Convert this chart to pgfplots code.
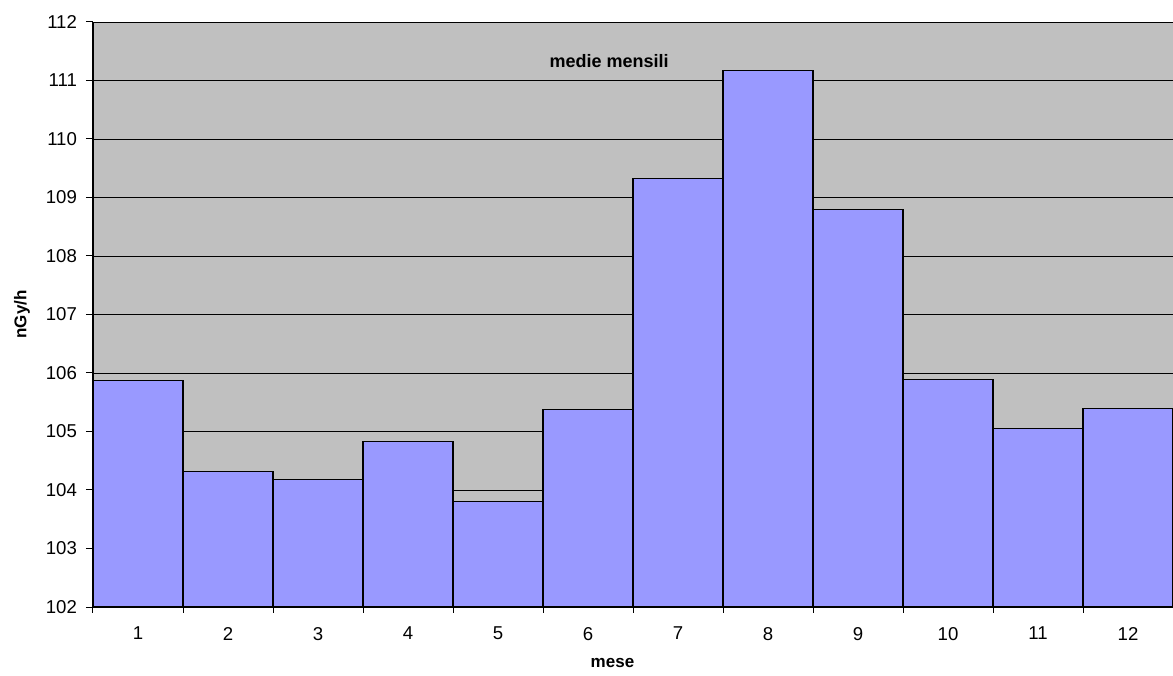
\documentclass[border=0pt]{standalone}
\usepackage{pgfplots}
\pgfplotsset{compat=1.18}
\usepackage{fontspec}
\setmainfont{Liberation Sans}
\definecolor{barfill}{HTML}{9999FF}
\definecolor{plotbg}{HTML}{C0C0C0}
\begin{document}
\begin{tikzpicture}
\path[use as bounding box] (-46.5pt,-34pt) rectangle (540pt,303.5pt);
\begin{axis}[
  at={(0,0)}, anchor=south west,
  scale only axis,
  width=540pt, height=292.5pt,
  xmin=0.5, xmax=12.5,
  ymin=102, ymax=112,
  ytick={102,103,...,112},
  xtick={1,...,12},
  minor xtick={0.5,1.5,...,12.5},
  axis background/.style={fill=plotbg},
  axis x line*=bottom,
  axis y line*=left,
  axis line style={black, line width=0.6pt, -},
  ymajorgrids,
  major grid style={black, line width=0.4pt},
  tick style={black, line width=0.5pt},
  xtick style={draw=none},
  minor x tick style={draw=black},
  tick align=outside,
  major tick length=3.5pt,
  minor tick length=2.8pt,
  every tick label/.append style={font=\fontsize{9.3}{10}\selectfont},
  /pgf/number format/assume math mode=true,
  yticklabel style={xshift=-1pt},
  xticklabel style={yshift=-3pt},
  xlabel={\textbf{mese}},
  ylabel={\textbf{nGy/h}},
  label style={font=\fontsize{8.5}{10}\selectfont},
  xlabel style={at={(rel axis cs:0.481,0)}, anchor=center, yshift=-28pt},
  ylabel style={at={(rel axis cs:0,0.5)}, anchor=center, rotate=0, yshift=35.5pt},
  clip=false,
]
\addplot[ybar, bar width=1, fill=barfill, draw=black, line width=0.6pt]
  coordinates {
  (1,105.87) (2,104.31) (3,104.18) (4,104.83) (5,103.80) (6,105.37)
  (7,109.32) (8,111.17) (9,108.79) (10,105.89) (11,105.05) (12,105.39)
  };
\node[font=\bfseries\fontsize{9}{10}\selectfont] at (rel axis cs:0.478,0.933) {medie mensili};
\end{axis}
\end{tikzpicture}
\end{document}
